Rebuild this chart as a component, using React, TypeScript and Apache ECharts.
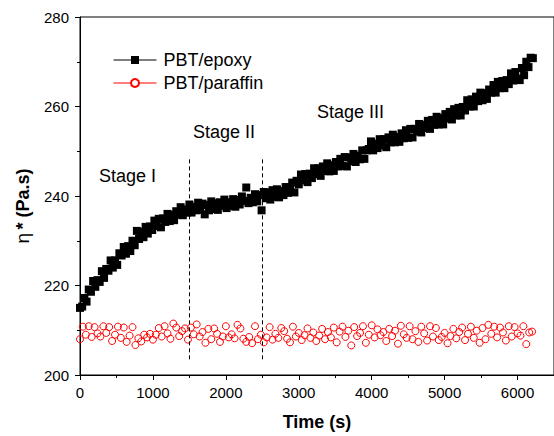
import React, { useEffect, useRef } from "react";
import * as echarts from "echarts";

// ---- data ----
const epoxyInterval = 30; // seconds between epoxy samples
const paraffinInterval = 40; // seconds between paraffin samples
const epoxyValues = [
  215.0, 215.3, 217.2, 216.4, 219.1, 218.6, 221.0, 219.7, 221.2, 220.8,
  223.2, 221.7, 223.7, 223.3, 225.6, 224.0, 225.6, 224.6, 227.2, 226.7,
  228.6, 227.1, 228.8, 227.7, 230.0, 229.0, 232.2, 230.4, 232.0, 230.8,
  233.1, 231.6, 233.2, 232.4, 234.5, 233.3, 234.9, 233.0, 235.0, 234.2,
  236.0, 234.4, 235.8, 234.6, 236.6, 235.8, 237.5, 235.7, 237.0, 236.3,
  238.1, 236.3, 237.6, 236.8, 238.5, 236.9, 238.3, 235.9, 238.0, 236.8,
  238.8, 237.1, 238.4, 236.9, 238.6, 237.8, 239.2, 237.3, 238.6, 237.8,
  239.3, 237.6, 239.1, 238.1, 239.9, 238.9, 241.9, 238.4, 239.6, 238.6,
  240.4, 238.8, 240.2, 236.8, 240.9, 239.5, 240.8, 239.2, 241.3, 239.8,
  241.5, 239.7, 241.1, 240.2, 242.0, 240.7, 241.9, 243.0, 240.8, 243.4,
  242.6, 244.8, 243.5, 244.9, 243.1, 245.0, 244.0, 246.2, 244.9, 246.2,
  244.5, 246.6, 245.6, 247.3, 245.5, 246.9, 245.6, 247.6, 246.6, 248.3,
  246.7, 248.7, 246.6, 248.6, 247.8, 249.4, 247.6, 249.0, 248.2, 250.2,
  248.3, 250.2, 250.5, 252.2, 250.2, 251.7, 250.7, 252.7, 251.3, 252.7,
  250.9, 253.1, 252.0, 253.7, 252.0, 253.2, 252.1, 254.0, 252.9, 254.7,
  253.0, 255.0, 253.1, 255.0, 254.4, 256.1, 254.2, 255.9, 255.2, 256.8,
  255.0, 257.0, 255.9, 257.7, 256.0, 257.4, 256.0, 258.3, 257.3, 258.8,
  257.1, 259.4, 258.0, 259.7, 258.0, 259.9, 259.1, 261.4, 260.0, 261.6,
  260.0, 262.2, 261.2, 263.1, 261.4, 263.0, 261.7, 263.8, 263.1, 264.8,
  263.1, 265.5, 264.1, 265.7, 264.1, 265.9, 265.0, 267.4, 265.8, 267.7,
  266.2, 265.9, 268.6, 267.0, 270.0, 268.8, 270.9, 270.8,
];
const paraffinValues = [
  208.0, 210.8, 209.0, 210.9, 208.5, 210.7, 209.3, 208.6, 210.9, 209.4,
  210.7, 207.6, 209.0, 210.8, 208.3, 210.6, 207.4, 208.8, 210.7, 206.7,
  208.2, 207.5, 209.0, 208.4, 209.2, 207.9, 209.0, 210.5, 208.6, 210.9,
  209.3, 208.1, 211.5, 210.6, 208.7, 209.8, 210.4, 207.9, 210.6, 209.1,
  211.3, 208.6, 209.6, 207.2, 210.3, 208.0, 210.4, 209.2, 207.4, 208.6,
  210.9, 208.4, 209.1, 208.2, 211.2, 210.4, 208.1, 207.4, 208.5, 207.1,
  210.9, 208.0, 209.0, 207.3, 208.4, 210.7, 207.9, 209.2, 208.3, 210.5,
  209.8, 208.1, 207.3, 210.8, 208.6, 209.4, 207.8, 208.9, 210.4, 208.3,
  209.5, 207.6, 208.8, 210.3, 208.0, 209.6, 208.4, 210.6, 207.3, 209.7,
  210.8, 208.5, 209.9, 206.6, 210.7, 208.7, 209.4, 210.9, 207.2, 209.0,
  211.1, 208.4, 210.2, 208.9, 209.6, 207.6, 210.3, 208.7, 209.9, 207.0,
  211.0, 209.1, 208.3, 210.9, 208.0, 209.8, 207.4, 210.8, 209.3, 207.7,
  210.9, 208.6, 210.5, 207.8, 208.5, 209.4, 207.1, 208.7, 210.3, 208.2,
  209.6, 210.6, 207.8, 209.2, 210.8, 208.3, 209.9, 207.2, 210.5, 208.0,
  211.2, 209.2, 210.8, 208.4, 210.6, 209.5, 207.7, 210.9, 208.6, 210.7,
  209.3, 208.8, 210.9, 206.9, 209.5, 209.7,
];
const stageBoundaries = [1500, 2500];
const boundaryRange = [203.5, 248.5];
const stageLabels = ["Stage I", "Stage II", "Stage III"];
const seriesNames = ["PBT/epoxy", "PBT/paraffin"];
const xMin = 0;
const xMax = 6500;
const xInterval = 1000;
const yMin = 200;
const yMax = 280;
const yInterval = 20;

const FONT = "Liberation Sans, Arial, sans-serif";

export default function App() {
  const ref = useRef<HTMLDivElement>(null);
  useEffect(() => {
    if (!ref.current) return;
    const chart = echarts.init(ref.current, undefined, { renderer: "svg" });
    const epoxy = epoxyValues.map((v, i) => [i * epoxyInterval, v]);
    const paraffin = paraffinValues.map((v, i) => [i * paraffinInterval, v]);
    const axisCommon = {
      axisLine: { show: true, lineStyle: { color: "#000", width: 1 } },
      axisTick: { show: true, inside: false, length: 5, lineStyle: { color: "#000" } },
      minorTick: { show: true, splitNumber: 2, length: 3, lineStyle: { color: "#000" } },
      splitLine: { show: false },
      minorSplitLine: { show: false },
    };
    chart.setOption({
      animation: false,
      backgroundColor: "#fff",
      grid: {
        left: 80,
        top: 17,
        width: 481,
        height: 359,
        show: true,
        borderColor: "#000",
        borderWidth: 1,
        containLabel: false,
      },
      legend: {
        orient: "vertical",
        left: 113,
        top: 51,
        padding: 0,
        itemWidth: 43,
        itemHeight: 10,
        itemGap: 5,
        textStyle: { fontSize: 18, color: "#000", fontFamily: FONT, padding: [0, 0, 0, 2] },
        lineStyle: { opacity: 1, width: 1 },
        data: [
          { name: seriesNames[0] },
          { name: seriesNames[1], itemStyle: { color: "#fff" } },
        ],
      },
      xAxis: {
        type: "value",
        min: xMin,
        max: xMax,
        interval: xInterval,
        ...axisCommon,
        axisLabel: {
          color: "#000",
          fontSize: 15,
          fontFamily: FONT,
          margin: 10,
          showMaxLabel: false,
          formatter: (v: number) => String(v),
        },
        name: "Time (s)",
        nameLocation: "middle",
        nameGap: 38,
        nameTextStyle: { fontSize: 18, fontWeight: "bold", color: "#000", fontFamily: FONT },
      },
      yAxis: {
        type: "value",
        min: yMin,
        max: yMax,
        interval: yInterval,
        ...axisCommon,
        axisLabel: { color: "#000", fontSize: 15, fontFamily: FONT, margin: 11 },
        name: "{a|η} {b|* (Pa.s)}",
        nameLocation: "middle",
        nameGap: 48,
        nameTextStyle: {
          color: "#000",
          fontFamily: FONT,
          padding: [0, 20, 0, 0],
          rich: {
            a: { fontSize: 19, fontFamily: FONT, color: "#000" },
            b: { fontSize: 18, fontWeight: "bold", fontFamily: FONT, color: "#000" },
          },
        },
      },
      series: [
        {
          name: seriesNames[0],
          type: "line",
          data: epoxy,
          symbol: "rect",
          symbolSize: 8,
          showSymbol: true,
          itemStyle: { color: "#000" },
          lineStyle: { color: "#000", opacity: 0, width: 1 },
          z: 3,
          markLine: {
            silent: true,
            symbol: "none",
            label: { show: false },
            lineStyle: { color: "#000", type: [4, 3], width: 1 },
            data: stageBoundaries.map((b) => [
              { coord: [b, boundaryRange[0]] },
              { coord: [b, boundaryRange[1]] },
            ]),
          },
        },
        {
          name: seriesNames[1],
          type: "line",
          data: paraffin,
          symbol: "circle",
          symbolSize: 7,
          showSymbol: true,
          itemStyle: { color: "rgba(255,255,255,0)", borderColor: "#ff0000", borderWidth: 1 },
          lineStyle: { color: "#ff0000", opacity: 0, width: 1 },
          z: 2,
        },
      ],
      graphic: [
        { type: "text", left: 99, top: 167, style: { text: stageLabels[0], fontSize: 18, fontFamily: FONT, fill: "#000" } },
        { type: "text", left: 193, top: 123, style: { text: stageLabels[1], fontSize: 18, fontFamily: FONT, fill: "#000" } },
        { type: "text", left: 317, top: 103, style: { text: stageLabels[2], fontSize: 18, fontFamily: FONT, fill: "#000" } },
      ],
    });
    return () => chart.dispose();
  }, []);
  return (
    <div
      ref={ref}
      style={{ position: "fixed", left: 0, top: 0, width: 554, height: 436 }}
    />
  );
}
